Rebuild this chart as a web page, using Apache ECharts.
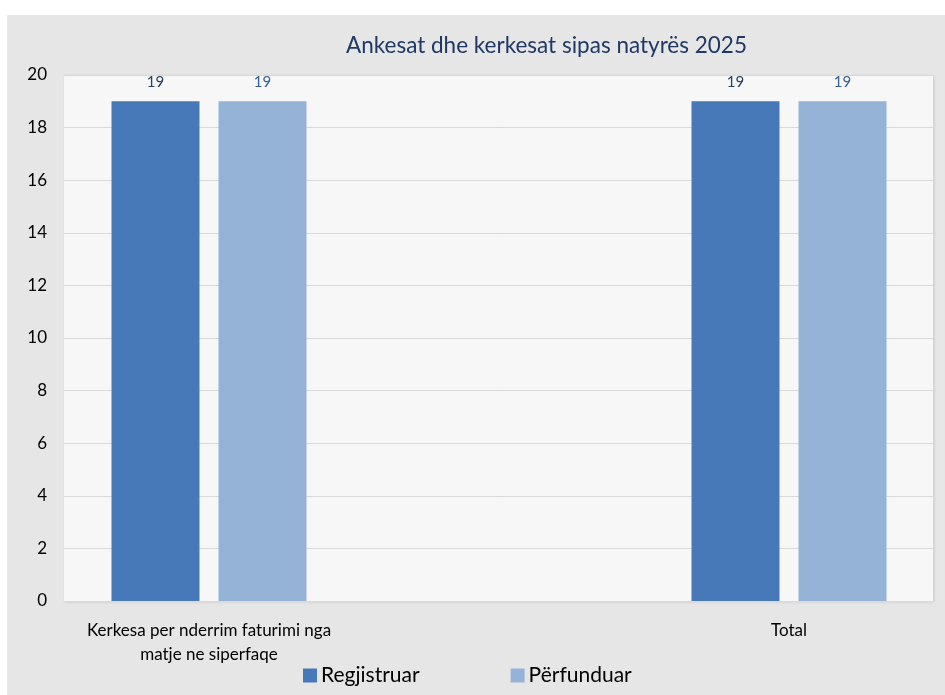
<!DOCTYPE html>
<html>
<head>
<meta charset="utf-8">
<script src="https://cdn.jsdelivr.net/npm/echarts@6/dist/echarts.min.js"></script>
<style>
  html, body { margin: 0; padding: 0; background: #ffffff; }
  #chart { width: 945px; height: 695px; }
</style>
</head>
<body>
<div id="chart"></div>
<script>
// Chart content
const titleText = 'Ankesat dhe kerkesat sipas natyrës 2025';
const categories = ['Kerkesa per nderrim faturimi nga\nmatje ne siperfaqe', 'Total'];
const seriesNames = ['Regjistruar', 'Përfunduar'];
const regjistruar = [19, 19];
const perfunduar = [19, 19];
const yTicks = { min: 0, max: 20, interval: 2 };

const FONT = 'Lato, "Open Sans", sans-serif';
const colors = ['#4779b9', '#95b3d7'];
const labelColors = ['#243f60', '#376092'];

const chart = echarts.init(document.getElementById('chart'), null, { renderer: 'canvas' });

chart.setOption({
  animation: false,
  backgroundColor: '#ffffff',
  graphic: [{
    type: 'rect',
    left: 7, top: 15,
    shape: { width: 938, height: 680 },
    style: { fill: '#e6e6e6' },
    z: -10
  }],
  title: {
    text: titleText,
    left: 341, top: 29,
    textStyle: { fontFamily: FONT, fontSize: 22.5, fontWeight: 'normal', color: '#1f3864' }
  },
  legend: {
    left: 298, top: 660,
    itemWidth: 14, itemHeight: 14, itemGap: 91,
    icon: 'rect',
    textStyle: { fontFamily: FONT, fontSize: 21, color: '#000000', padding: [0, 0, 0, -1] },
    data: seriesNames
  },
  grid: [
    // plot area with value gridlines
    { left: 64, right: 12, top: 75, bottom: 94, show: true, backgroundColor: '#f7f7f7', borderWidth: 0,
      shadowColor: 'rgba(0,0,0,0.12)', shadowBlur: 3, shadowOffsetX: 1, shadowOffsetY: 1 },
    // bar layout grid: category points sit on its edges
    { left: 209, right: 156, top: 75, bottom: 94 }
  ],
  xAxis: [
    { type: 'category', gridIndex: 0, data: categories,
      axisLine: { lineStyle: { color: '#d9d9d9', width: 1 } },
      axisTick: { show: false }, axisLabel: { show: false } },
    { type: 'category', gridIndex: 1, data: categories, boundaryGap: false,
      axisLine: { show: false }, axisTick: { show: false },
      axisLabel: { fontFamily: FONT, fontSize: 17, color: '#000000', margin: 18, lineHeight: 24, interval: 0 } }
  ],
  yAxis: [
    { type: 'value', gridIndex: 0, min: yTicks.min, max: yTicks.max, interval: yTicks.interval,
      axisLine: { show: false }, axisTick: { show: false },
      splitLine: { lineStyle: { color: '#d9d9d9', width: 1 } },
      axisLabel: { fontFamily: FONT, fontSize: 17, color: '#000000', margin: 17 } },
    { type: 'value', gridIndex: 1, min: yTicks.min, max: yTicks.max, interval: yTicks.interval, show: false }
  ],
  series: [
    { name: seriesNames[0], type: 'bar', xAxisIndex: 1, yAxisIndex: 1, data: regjistruar,
      barWidth: 88, barGap: '21.6%',
      itemStyle: { color: colors[0] },
      label: { show: true, position: 'top', distance: 12, fontFamily: FONT, fontSize: 15, color: labelColors[0] } },
    { name: seriesNames[1], type: 'bar', xAxisIndex: 1, yAxisIndex: 1, data: perfunduar,
      barWidth: 88, barGap: '21.6%',
      itemStyle: { color: colors[1] },
      label: { show: true, position: 'top', distance: 12, fontFamily: FONT, fontSize: 15, color: labelColors[1] } }
  ]
});
</script>
</body>
</html>
